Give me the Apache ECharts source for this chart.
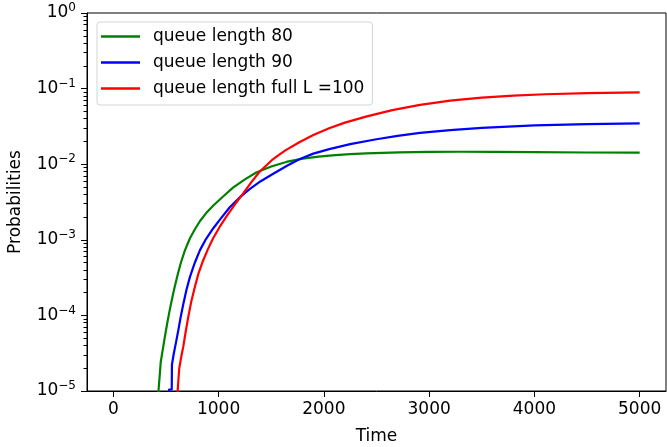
<!DOCTYPE html>
<html>
<head>
<meta charset="utf-8">
<script src="https://cdn.jsdelivr.net/npm/echarts@6/dist/echarts.min.js"></script>
<style>html,body{margin:0;padding:0;background:#fff}#c{width:667px;height:447px}</style>
</head>
<body>
<div id="c"></div>
<script>
// Data: time values and log10(probability) readings
var seriesNames = ['queue length 80', 'queue length 90', 'queue length full L =100'];
var tGreen = [0, 420, 430, 444, 446, 450, 470, 490, 510, 530, 555, 580, 610, 640, 680, 728, 775, 822, 880, 948, 1040, 1137, 1250, 1358, 1500, 1642, 1800, 1950, 2079, 2250, 2400, 2713, 3000, 3300, 3600, 4000, 4500, 5000];
var lgGreen = [-7, -7, -4.98, -4.98, -4.70, -4.62, -4.45, -4.28, -4.12, -3.97, -3.80, -3.64, -3.47, -3.31, -3.14, -2.98, -2.86, -2.755, -2.65, -2.55, -2.43, -2.31, -2.20, -2.11, -2.03, -1.97, -1.927, -1.90, -1.883, -1.868, -1.857, -1.843, -1.836, -1.835, -1.837, -1.840, -1.845, -1.848];
var tBlue = [0, 520, 530, 555, 557, 575, 595, 617, 640, 665, 695, 728, 775, 822, 880, 948, 1020, 1106, 1200, 1295, 1400, 1515, 1650, 1767, 1900, 2051, 2250, 2500, 2700, 2913, 3200, 3500, 4000, 4500, 5000];
var lgBlue = [-7, -7, -4.98, -4.98, -4.65, -4.50, -4.36, -4.20, -4.02, -3.85, -3.66, -3.49, -3.30, -3.14, -2.99, -2.85, -2.72, -2.57, -2.44, -2.33, -2.225, -2.13, -2.02, -1.935, -1.86, -1.80, -1.735, -1.67, -1.625, -1.585, -1.55, -1.52, -1.487, -1.47, -1.459];
var tRed = [0, 600, 612, 624, 626, 645, 665, 688, 712, 740, 775, 810, 854, 900, 948, 1010, 1075, 1150, 1232, 1310, 1389, 1450, 1515, 1580, 1642, 1767, 1900, 2050, 2200, 2400, 2650, 2913, 3200, 3500, 3800, 4100, 4500, 5000];
var lgRed = [-7, -7, -4.98, -4.98, -4.70, -4.55, -4.41, -4.21, -4.02, -3.82, -3.62, -3.44, -3.27, -3.12, -2.98, -2.83, -2.69, -2.54, -2.39, -2.24, -2.10, -2.02, -1.935, -1.87, -1.81, -1.71, -1.615, -1.525, -1.45, -1.37, -1.285, -1.215, -1.16, -1.12, -1.093, -1.075, -1.06, -1.049];
var xTicks = [0, 1000, 2000, 3000, 4000, 5000];
var yTicks = [1e-5, 1e-4, 1e-3, 1e-2, 1e-1, 1];
var yMinorTicks = [];
[1e-5, 1e-4, 1e-3, 1e-2, 1e-1].forEach(function (d) {
  for (var k = 2; k <= 9; k++) yMinorTicks.push(+(d * k).toPrecision(3));
});

function pairs(t, lg) { return t.map(function (x, i) { return [x, Math.pow(10, lg[i])]; }); }
function fmtY(v) {
  var e = Math.round(Math.log10(v));
  var s = e < 0 ? '\u2212' + (-e) : '' + e;
  return '{b|10}{s|' + s + '}';
}
var FONT = 'DejaVu Sans';
var FS = 17;
var chart = echarts.init(document.getElementById('c'), null, {renderer: 'canvas'});
chart.setOption({
  animation: false,
  backgroundColor: '#fff',
  textStyle: {fontFamily: FONT},
  grid: {left: 87, right: 1, top: 13, bottom: 56, containLabel: false, outerBoundsMode: 'none',
         show: true, borderColor: '#000', borderWidth: 1, backgroundColor: 'transparent'},
  legend: {
    orient: 'vertical', left: 97, top: 22,
    padding: [6, 8, 8, 4],
    itemGap: 9, itemWidth: 39, itemHeight: 2.5,
    icon: 'rect',
    borderColor: '#d5d5d5', borderWidth: 1, borderRadius: 3,
    backgroundColor: 'rgba(255,255,255,0.8)',
    textStyle: {fontFamily: FONT, fontSize: FS, color: '#000', padding: [0, 0, 0, 8]},
    data: seriesNames
  },
  xAxis: {
    type: 'value', min: -250, max: 5250,
    splitLine: {show: false},
    axisLine: {onZero: false, lineStyle: {color: '#000', width: 1}},
    axisTick: {customValues: xTicks, length: 6, lineStyle: {color: '#000'}},
    axisLabel: {customValues: xTicks, formatter: function (v) { return String(v); },
                fontFamily: FONT, fontSize: FS, color: '#000', margin: 10},
    name: 'Time', nameLocation: 'middle', nameGap: 37,
    nameTextStyle: {fontFamily: FONT, fontSize: FS, color: '#000'}
  },
  yAxis: [{
    type: 'log', logBase: 10, min: 1e-5, max: 1,
    splitLine: {show: false},
    axisLine: {onZero: false, lineStyle: {color: '#000', width: 1}},
    axisTick: {customValues: yTicks, length: 6, lineStyle: {color: '#000'}},
    axisLabel: {
      customValues: yTicks, formatter: fmtY, margin: 11, color: '#000',
      rich: {
        b: {fontFamily: FONT, fontSize: FS, color: '#000'},
        s: {fontFamily: FONT, fontSize: 12, color: '#000', padding: [0, 0, 10, 0]}
      }
    },
    name: 'Probabilities', nameLocation: 'middle', nameGap: 63,
    nameTextStyle: {fontFamily: FONT, fontSize: FS, color: '#000'}
  }, {
    type: 'log', logBase: 10, min: 1e-5, max: 1, position: 'left',
    splitLine: {show: false},
    axisLine: {show: false, onZero: false},
    axisTick: {customValues: yMinorTicks, length: 3.5, lineStyle: {color: '#000'}},
    axisLabel: {show: false}
  }],
  series: [
    {name: seriesNames[0], type: 'line', data: pairs(tGreen, lgGreen), showSymbol: false, symbol: 'none',
     lineStyle: {color: '#008000', width: 2.2, join: 'round'}, itemStyle: {color: '#008000'}, clip: true},
    {name: seriesNames[1], type: 'line', data: pairs(tBlue, lgBlue), showSymbol: false, symbol: 'none',
     lineStyle: {color: '#0000ff', width: 2.2, join: 'round'}, itemStyle: {color: '#0000ff'}, clip: true},
    {name: seriesNames[2], type: 'line', data: pairs(tRed, lgRed), showSymbol: false, symbol: 'none',
     lineStyle: {color: '#ff0000', width: 2.2, join: 'round'}, itemStyle: {color: '#ff0000'}, clip: true}
  ]
});
</script>
</body>
</html>
